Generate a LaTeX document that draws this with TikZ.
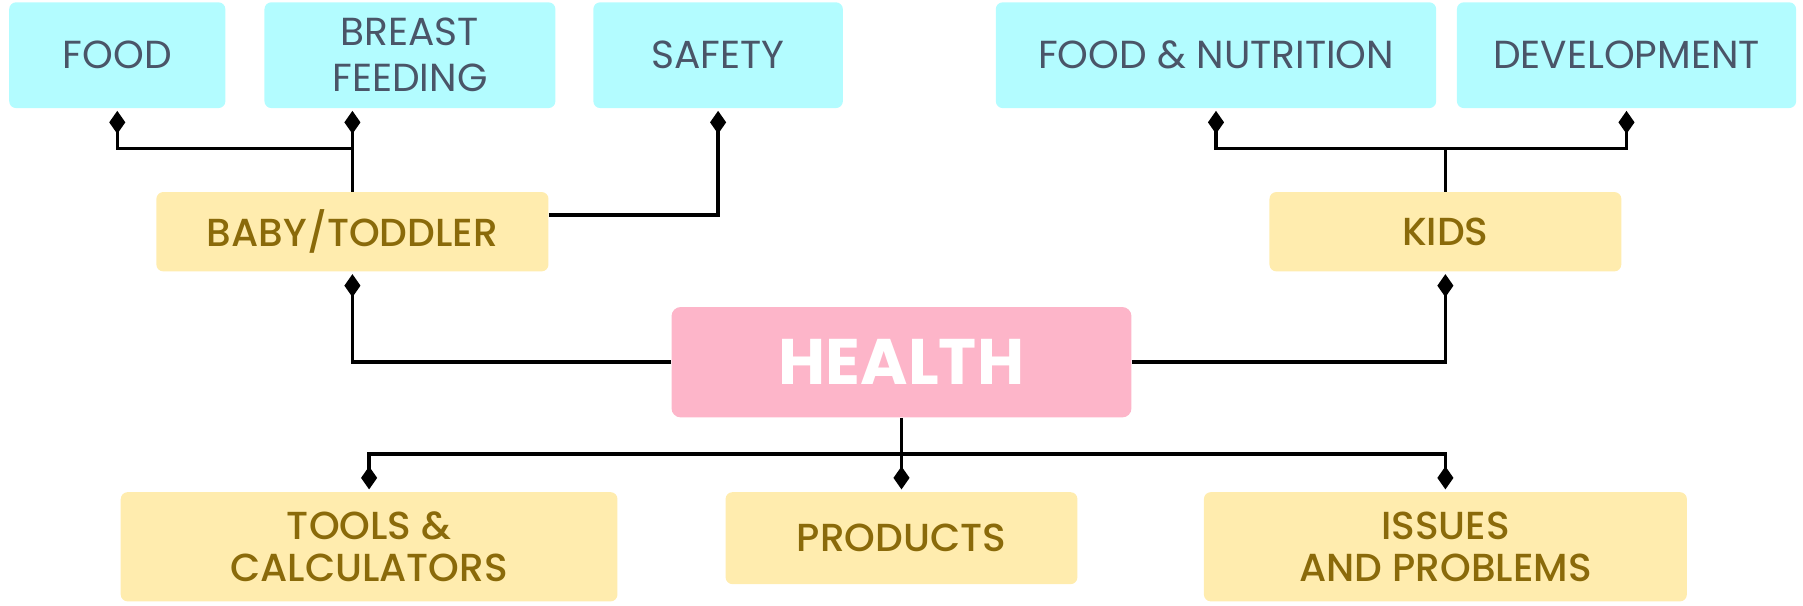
\documentclass[tikz,border=0pt]{standalone}
\usepackage{fontspec}
\setmainfont{Poppins}
\newfontfamily\medio{Poppins}[UprightFont={* Medium}]
\usepackage{tikz}
\usetikzlibrary{arrows.meta}
\definecolor{ciano}{HTML}{B3FCFF}
\definecolor{ardesia}{HTML}{4A5568}
\definecolor{crema}{HTML}{FFECAE}
\definecolor{oliva}{HTML}{8A6A0A}
\definecolor{rosa}{HTML}{FDB5C9}

\begin{document}
\begin{tikzpicture}[x=0.5pt,y=-0.5pt,
    foglia/.style={fill=ciano, text=ardesia, rounded corners=3pt, inner sep=0pt,
        align=center, minimum height=46pt, font=\fontsize{17}{20}\selectfont},
    ramo/.style={fill=crema, text=oliva, rounded corners=3pt, inner sep=0pt,
        align=center, font=\medio\fontsize{17}{18.5}\selectfont},
    radice/.style={fill=rosa, text=white, rounded corners=4pt, inner sep=0pt,
        font=\bfseries\fontsize{28}{30}\selectfont},
    linea/.style={line width=1.5pt},
    rami/.style={linea, -{Diamond[length=10pt,width=7pt]}, shorten >=1pt}]
    % Area del disegno
    \useasboundingbox (0,0) rectangle (1568,527);

    % Categorie in alto
    \node[foglia, minimum width=94pt] (FOOD) at (102,48) {FOOD};
    \node[foglia, minimum width=126.5pt] (BREAST) at (356.5,48) {\raisebox{-1.5pt}{BREAST}\\\raisebox{-1.5pt}{FEEDING}};
    \node[foglia, minimum width=108.5pt] (SAFETY) at (624.5,48) {SAFETY};
    \node[foglia, minimum width=191.5pt] (FOODN) at (1057.5,48) {FOOD \& NUTRITION};
    \node[foglia, minimum width=147.5pt] (DEV) at (1414.5,48) {DEVELOPMENT};

    % Fasce di eta
    \node[ramo, minimum width=170.5pt, minimum height=34.5pt] (BABY) at (306.5,201.5) {BABY/TODDLER};
    \node[ramo, minimum width=153pt, minimum height=34.5pt] (KIDS) at (1257,201.5) {KIDS};

    % Nodo centrale
    \node[radice, minimum width=200pt, minimum height=48pt] (HEALTH) at (784,315) {HEALTH};

    % Categorie in basso
    \node[ramo, minimum width=216pt, minimum height=47.5pt] (TOOLS) at (321,475.5) {TOOLS \&\\CALCULATORS};
    \node[ramo, minimum width=153pt, minimum height=40pt] (PRODUCTS) at (784,468) {PRODUCTS};
    \node[ramo, minimum width=210pt, minimum height=47.5pt] (ISSUES) at (1257,475.5) {ISSUES\\AND PROBLEMS};

    % Punti di snodo
    \coordinate (jb) at (BABY.north |- 0,129);
    \coordinate (jk) at (KIDS.north |- 0,129);
    \coordinate (jh) at (HEALTH.south |- 0,395);

    % Collegamenti di BABY/TODDLER
    \draw[linea] (BABY.north) -- (jb);
    \draw[rami] (jb) -| (FOOD.south);
    \draw[rami] (jb) -- (BREAST.south -| jb);
    \draw[rami] (BABY.east |- 0,187) -| (SAFETY.south);

    % Collegamenti di KIDS
    \draw[linea] (KIDS.north) -- (jk);
    \draw[rami] (jk) -| (FOODN.south);
    \draw[rami] (jk) -| (DEV.south);

    % Collegamenti del nodo centrale
    \draw[rami] (HEALTH.west) -| (BABY.south);
    \draw[rami] (HEALTH.east) -| (KIDS.south);
    \draw[rami] (HEALTH.south) -- (PRODUCTS.north);
    \draw[rami] (jh) -| (TOOLS.north);
    \draw[rami] (jh) -| (ISSUES.north);
\end{tikzpicture}
\end{document}
